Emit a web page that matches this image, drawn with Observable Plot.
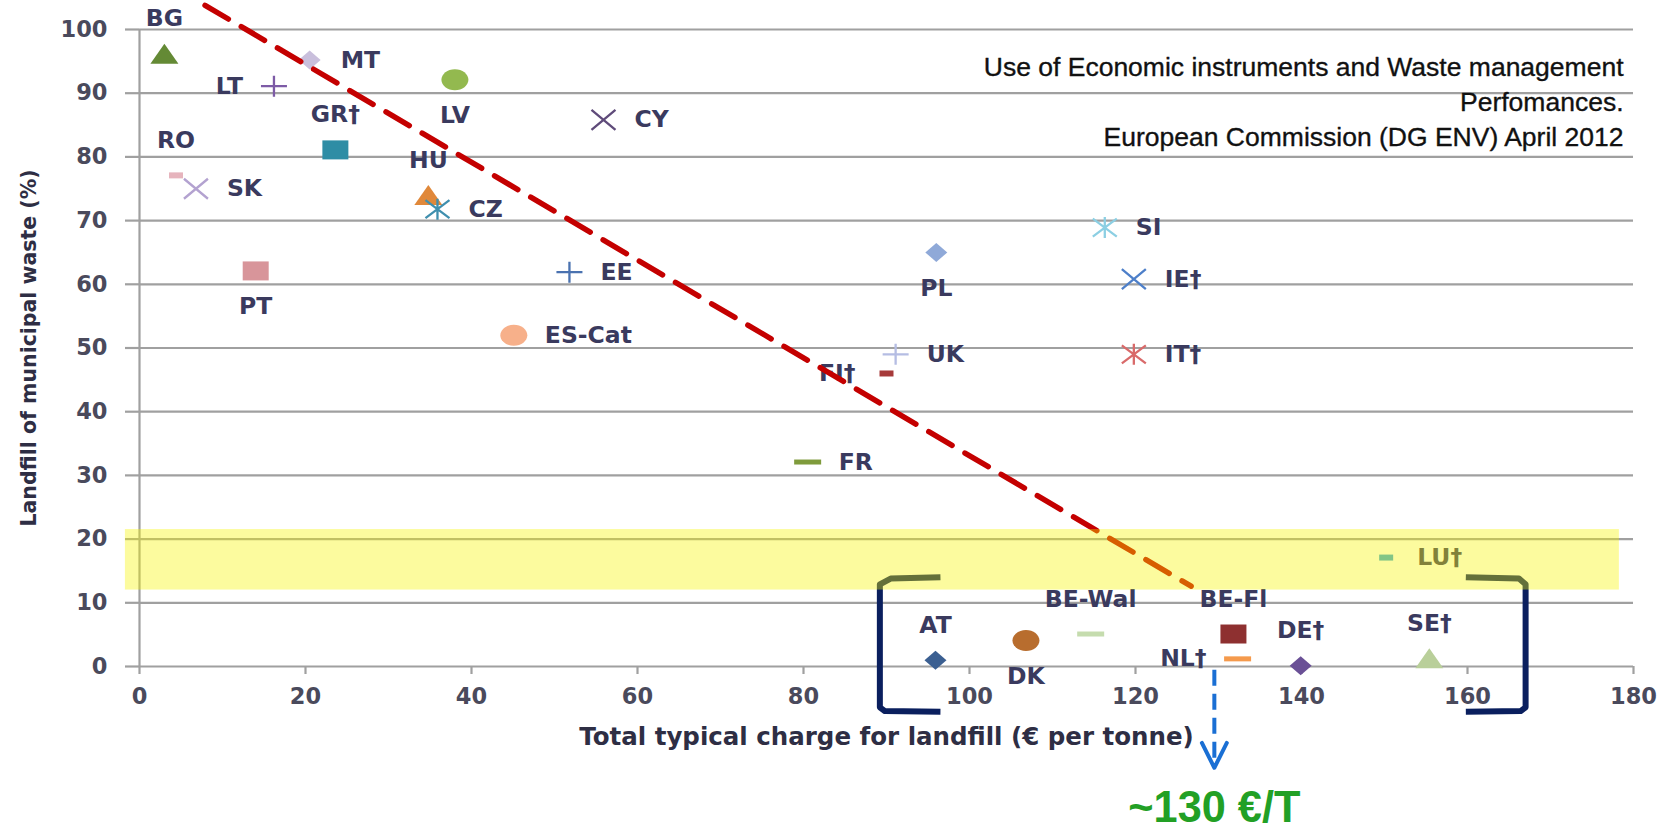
<!DOCTYPE html>
<html><head><meta charset="utf-8">
<script src="https://cdn.jsdelivr.net/npm/d3@7"></script>
<script src="https://cdn.jsdelivr.net/npm/@observablehq/plot@0.6"></script>
<style>
html,body{margin:0;padding:0;background:#fff;}
#chart{width:1677px;height:833px;overflow:hidden;}
</style></head><body><div id="chart"></div>
<script>
// ---- data ----
const countries = ["BG","MT","LT","LV","CY","GR†","RO","SK","HU","CZ","PT","EE","ES-Cat","PL","SI","IE†","IT†","UK","FI†","FR","LU†","BE-Wal","BE-Fl","AT","DK","NL†","DE†","SE†"];
const charge =    [3.0, 20.5, 16.2, 38.0, 55.9, 23.6, 4.4, 6.8, 34.8, 35.9, 14.0, 51.8, 45.1, 96.0, 116.3, 119.8, 119.8, 91.1, 90.0, 80.5, 150.2, 114.6, 131.8, 95.9, 106.8, 132.3, 139.9, 155.4];
const landfill =  [96.2, 95.2, 91.1, 92.1, 85.8, 81.1, 77.1, 75.0, 74.0, 71.8, 62.1, 61.9, 52.0, 65.0, 68.9, 60.8, 49.0, 49.0, 46.0, 32.1, 17.1, 5.1, 5.1, 1.0, 4.1, 1.2, 0.1, 1.3];
const labelSide = ["above","right","left","below","right","above","above","right","above","right","below","right","right","below","right","right","right","right","left","right","right","above","above","above","below","left","above","above"];
const xTicks = [0,20,40,60,80,100,120,140,160,180];
const yTicks = [0,10,20,30,40,50,60,70,80,90,100];

// marker style per country (Excel-like series markers)
const markerShape = {"BG":"tri","MT":"dia","LT":"plus","LV":"ell","CY":"times","GR†":"sq","RO":"dashS","SK":"times","HU":"tri","CZ":"star","PT":"sq","EE":"plus","ES-Cat":"ell","PL":"dia","SI":"star","IE†":"times","IT†":"star","UK":"plus","FI†":"dashS","FR":"dashL","LU†":"dashS","BE-Wal":"dashL","BE-Fl":"sq","AT":"dia","DK":"ell","NL†":"dashL","DE†":"dia","SE†":"tri"};
const markerColor = {"BG":"#648a35","MT":"#c9bfdc","LT":"#7d5ba6","LV":"#93b94f","CY":"#5f4b7a","GR†":"#2e8da5","RO":"#e6b4bd","SK":"#b3a2d0","HU":"#e0883a","CZ":"#3f8fae","PT":"#d8959a","EE":"#4a72b0","ES-Cat":"#f7b08a","PL":"#8fa9d8","SI":"#8ccfe3","IE†":"#4d7fc9","IT†":"#d96a6a","UK":"#b5bde3","FI†":"#a63a3a","FR":"#7f9b3c","LU†":"#3aa8d8","BE-Wal":"#c5dcae","BE-Fl":"#8e3030","AT":"#3b5f91","DK":"#b86d2e","NL†":"#f59a4c","DE†":"#6a5096","SE†":"#b9cf9a"};

// annotations
const trendX = [7.9, 126.7];
const trendY = [103.8, 12.6];
const bandX = [-1.7, 178.3];
const bandY = [12.0, 21.5];
const bracketLeftX  = [96.5, 90.5, 89.2, 89.2, 89.8, 96.5];
const bracketLeftY  = [14.0, 13.8, 12.9, -6.4, -7.0, -7.1];
const bracketRightX = [159.8, 166.2, 167.0, 167.0, 166.4, 159.8];
const bracketRightY = [14.0, 13.8, 12.9, -6.4, -7.0, -7.1];
const arrowX = 129.5;
const arrowY = [-0.6, -15.4];
const chevronX = [128.0, 129.5, 131.0];
const chevronY = [-12.0, -15.9, -12.0];
const priceText = "~130 €/T";
const priceY = -24.4;
const titleLines = ["Use of Economic instruments and Waste management", "Perfomances.", "European Commission (DG ENV) April 2012"];
const xTitle = "Total typical charge for landfill (€ per tonne)";
const yTitle = "Landfill of municipal waste (%)";

// ---- tables ----
const rows = countries.map((c, i) => ({country: c, charge: charge[i], landfill: landfill[i], side: labelSide[i]}));
const trend = trendX.map((x, i) => ({x, y: trendY[i]}));
const bracketL = bracketLeftX.map((x, i) => ({x, y: bracketLeftY[i]}));
const bracketR = bracketRightX.map((x, i) => ({x, y: bracketRightY[i]}));
const chevron = chevronX.map((x, i) => ({x, y: chevronY[i]}));

// custom symbols (horizontally wide like the stretched original)
function ell(c, rx, ry) {
  const k = 0.5523;
  c.moveTo(rx, 0);
  c.bezierCurveTo(rx, ry * k, rx * k, ry, 0, ry);
  c.bezierCurveTo(-rx * k, ry, -rx, ry * k, -rx, 0);
  c.bezierCurveTo(-rx, -ry * k, -rx * k, -ry, 0, -ry);
  c.bezierCurveTo(rx * k, -ry, rx, -ry * k, rx, 0);
  c.closePath();
}
const symbols = {
  tri:   {draw(c) { c.moveTo(-14, 10); c.lineTo(14, 10); c.lineTo(0, -10); c.closePath(); }},
  dia:   {draw(c) { c.moveTo(0, -9.5); c.lineTo(11, 0); c.lineTo(0, 9.5); c.lineTo(-11, 0); c.closePath(); }},
  sq:    {draw(c) { c.moveTo(-13, -9.5); c.lineTo(13, -9.5); c.lineTo(13, 9.5); c.lineTo(-13, 9.5); c.closePath(); }},
  ell:   {draw(c) { ell(c, 13.5, 10.5); }},
  dashL: {draw(c) { c.moveTo(-13.5, -2.5); c.lineTo(13.5, -2.5); c.lineTo(13.5, 2.5); c.lineTo(-13.5, 2.5); c.closePath(); }},
  dashS: {draw(c) { c.moveTo(-7, -3); c.lineTo(7, -3); c.lineTo(7, 3); c.lineTo(-7, 3); c.closePath(); }},
  plus:  {draw(c) { c.moveTo(-13, 0); c.lineTo(13, 0); c.moveTo(0, -10.5); c.lineTo(0, 10.5); }},
  times: {draw(c) { c.moveTo(-12, -10); c.lineTo(12, 10); c.moveTo(-12, 10); c.lineTo(12, -10); }},
  star:  {draw(c) { c.moveTo(-12, -9); c.lineTo(12, 9); c.moveTo(-12, 9); c.lineTo(12, -9); c.moveTo(0, -10.5); c.lineTo(0, 10.5); }}
};
const strokeShapes = new Set(["plus", "times", "star"]);

const dotMarks = Object.keys(symbols).map(shape => {
  const sub = rows.filter(d => markerShape[d.country] === shape);
  return strokeShapes.has(shape)
    ? Plot.dot(sub, {x: "charge", y: "landfill", r: 10, symbol: symbols[shape], fill: "none", stroke: d => markerColor[d.country], strokeWidth: 2.3})
    : Plot.dot(sub, {x: "charge", y: "landfill", r: 10, symbol: symbols[shape], fill: d => markerColor[d.country], stroke: "none"});
});

const labelFont = {fontFamily: "DejaVu Sans", fontWeight: "bold", fontSize: 23.5, fill: "#3a3a5e"};
const labelMarks = [
  Plot.text(rows.filter(d => d.side === "right"), {x: "charge", y: "landfill", text: "country", textAnchor: "start", lineAnchor: "middle", dx: 31, ...labelFont}),
  Plot.text(rows.filter(d => d.side === "left"), {x: "charge", y: "landfill", text: "country", textAnchor: "end", lineAnchor: "middle", dx: -31, ...labelFont}),
  Plot.text(rows.filter(d => d.side === "above"), {x: "charge", y: "landfill", text: "country", textAnchor: "middle", lineAnchor: "middle", dy: -35, ...labelFont}),
  Plot.text(rows.filter(d => d.side === "below"), {x: "charge", y: "landfill", text: "country", textAnchor: "middle", lineAnchor: "middle", dy: 36, ...labelFont})
];

const gridColor = "#a0a0a0";
const chart = Plot.plot({
  width: 1677,
  height: 833,
  marginLeft: 139,
  marginRight: 44,
  marginTop: 29,
  marginBottom: 167,
  x: {domain: [0, 180]},
  y: {domain: [0, 100]},
  color: {type: "identity"},
  style: {fontFamily: "DejaVu Sans", background: "#fff", overflow: "visible"},
  marks: [
    Plot.ruleY(yTicks, {x1: 0, x2: 180, stroke: gridColor, strokeWidth: 2.2}),
    Plot.ruleX([0], {y1: 0, y2: 100, stroke: gridColor, strokeWidth: 2.2}),
    Plot.axisY({ticks: yTicks, tickSize: 14, tickPadding: 18, stroke: gridColor, strokeWidth: 2.2, fill: "#4a4a5c", fontSize: 22.5, fontWeight: "bold", fontFamily: "DejaVu Sans", label: null}),
    Plot.axisX({ticks: xTicks, tickSize: 8, tickPadding: 14, stroke: gridColor, strokeWidth: 2.2, fill: "#4a4a5c", fontSize: 22.5, fontWeight: "bold", fontFamily: "DejaVu Sans", label: null}),
    Plot.text([titleLines.join("\n")], {frameAnchor: "top-right", textAnchor: "end", lineAnchor: "top", dx: -10, dy: 22, fontSize: 26.5, lineHeight: 1.32, fontFamily: "Liberation Sans", fill: "#111", stroke: "#111", strokeWidth: 0.35}),
    ...dotMarks,
    ...labelMarks,
    Plot.line(trend, {x: "x", y: "y", stroke: "#c40000", strokeWidth: 5.5, strokeDasharray: "27,15"}),
    Plot.line(bracketL, {x: "x", y: "y", stroke: "#0a1f5e", strokeWidth: 6, strokeLinejoin: "round", strokeLinecap: "butt", curve: "linear"}),
    Plot.line(bracketR, {x: "x", y: "y", stroke: "#0a1f5e", strokeWidth: 6, strokeLinejoin: "round", strokeLinecap: "butt", curve: "linear"}),
    Plot.ruleX([arrowX], {y1: arrowY[0], y2: arrowY[1], stroke: "#1a6fd4", strokeWidth: 4, strokeDasharray: "16,8"}),
    Plot.line(chevron, {x: "x", y: "y", stroke: "#1a6fd4", strokeWidth: 4}),
    Plot.text([priceText], {x: () => arrowX, y: () => priceY, textAnchor: "middle", lineAnchor: "bottom", fontSize: 44, fontWeight: "bold", fontFamily: "Liberation Sans Narrow, Liberation Sans, sans-serif", fill: "#22a025"}),
    Plot.rect([{}], {x1: () => bandX[0], x2: () => bandX[1], y1: () => bandY[0], y2: () => bandY[1], fill: "rgb(247,245,0)", fillOpacity: 0.38}),
    Plot.text([xTitle], {frameAnchor: "bottom", textAnchor: "middle", lineAnchor: "bottom", dy: 78, fontSize: 24.5, fontWeight: "bold", fontFamily: "DejaVu Sans", fill: "#2e2e44"}),
    Plot.text([yTitle], {frameAnchor: "left", rotate: -90, textAnchor: "middle", lineAnchor: "bottom", dx: -104, dy: 0, fontSize: 20.5, fontWeight: "bold", fontFamily: "DejaVu Sans", fill: "#2e2e44"})
  ]
});
document.getElementById("chart").appendChild(chart);
// fit the condensed price label to the reference width
for (const t of chart.querySelectorAll("text")) {
  if (t.textContent === priceText) { t.setAttribute("textLength", 172); t.setAttribute("lengthAdjust", "spacingAndGlyphs"); }
}
</script></body></html>
